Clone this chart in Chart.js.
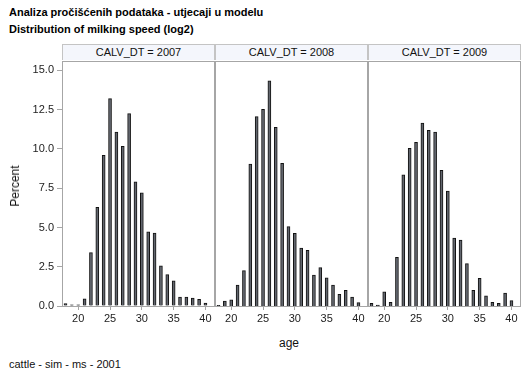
<!DOCTYPE html>
<html lang="hr">
<head>
  <meta charset="UTF-8">
  <title>Distribution of milking speed (log2)</title>
  <script src="https://cdn.jsdelivr.net/npm/chart.js"></script>
  <style>
    body { margin: 0; padding: 0; background: #fff; font-family: Arial, "Liberation Sans", sans-serif; }
    #page { position: relative; width: 529px; height: 378px; overflow: hidden; }
    .title { position: absolute; left: 9px; font-size: 11px; font-weight: bold; color: #000; }
    .strip {
      position: absolute; top: 44px; height: 16px; box-sizing: border-box;
      border: 1px solid #c4c4c4; border-bottom: none; background: #f4f6fc;
      font-size: 11px; color: #111; text-align: center; line-height: 15px;
    }
    .panel { position: absolute; top: 61px; height: 269px; }
    #ylabel { position: absolute; left: 15px; top: 186px; font-size: 12px; color: #111;
      transform: translate(-50%, -50%) rotate(-90deg); white-space: nowrap; }
    #xlabel { position: absolute; left: 289px; top: 343px; font-size: 12px; color: #111;
      transform: translate(-50%, -50%); }
    #foot { position: absolute; left: 9px; top: 358px; font-size: 11px; color: #111; }
  </style>
</head>
<body>
  <div id="page">
    <div class="title" style="top:6px">Analiza pročišćenih podataka - utjecaji u modelu</div>
    <div class="title" style="top:23px">Distribution of milking speed (log2)</div>

    <div class="panel" style="left:0;width:215px"><canvas id="c2007" width="215" height="269"></canvas></div>
    <div class="panel" style="left:215px;width:153px"><canvas id="c2008" width="153" height="269"></canvas></div>
    <div class="panel" style="left:368px;width:153px"><canvas id="c2009" width="153" height="269"></canvas></div>

    <div class="strip" style="left:62px;width:153px">CALV_DT = 2007</div>
    <div class="strip" style="left:215px;width:153px">CALV_DT = 2008</div>
    <div class="strip" style="left:368px;width:153px">CALV_DT = 2009</div>

    <div id="ylabel">Percent</div>
    <div id="xlabel">age</div>
    <div id="foot">cattle - sim - ms - 2001</div>
  </div>

  <script>
    // ages 18..40, percent per age in each calving year
    const ages = [18, 19, 20, 21, 22, 23, 24, 25, 26, 27, 28, 29, 30, 31, 32, 33, 34, 35, 36, 37, 38, 39, 40];
    const pct2007 = [0.15, 0.08, 0.08, 0.45, 3.4, 6.28, 9.6, 13.2, 11.08, 10.17, 12.25, 7.9, 7.2, 4.73, 4.65, 2.55, 2.0, 1.6, 0.57, 0.57, 0.51, 0.42, 0.19];
    const pct2008 = [0.04, 0.32, 0.4, 1.34, 2.25, 9.04, 12.06, 12.53, 14.33, 11.38, 9.09, 5.05, 4.63, 3.69, 3.55, 1.97, 2.44, 1.8, 1.34, 0.74, 1.0, 0.57, 0.21];
    const pct2009 = [0.17, 0.06, 0.91, 0.23, 3.1, 8.36, 10.04, 10.42, 11.65, 11.19, 11.08, 8.64, 7.32, 4.33, 4.2, 2.7, 1.0, 1.76, 0.64, 0.23, 0.17, 0.83, 0.34];
    const xTicks = [20, 25, 30, 35, 40];
    const yTicks = [0, 2.5, 5, 7.5, 10, 12.5, 15];

    const axisColor = '#a6a6a6';
    const tickFont = { family: 'Arial', size: 11 };

    // gray frame around each panel
    const framePlugin = {
      id: 'frame',
      afterDraw(chart) {
        const a = chart.chartArea;
        const ctx = chart.ctx;
        ctx.save();
        ctx.strokeStyle = axisColor;
        ctx.lineWidth = 1;
        ctx.strokeRect(Math.round(a.left) + 0.5, Math.round(a.top) + 0.5,
          Math.round(a.right - a.left) - 1, Math.round(a.bottom - a.top));
        ctx.restore();
      }
    };

    function makePanel(id, values, showY) {
      const points = ages.map((a, i) => ({ x: a, y: values[i] }));
      return new Chart(document.getElementById(id), {
        type: 'bar',
        data: {
          datasets: [{
            data: points,
            backgroundColor: '#62666e',
            borderColor: '#111',
            borderWidth: 1,
            barThickness: 3
          }]
        },
        options: {
          responsive: false,
          animation: false,
          layout: { padding: 0 },
          plugins: { legend: { display: false }, tooltip: { enabled: false } },
          scales: {
            x: {
              type: 'linear',
              offset: false,
              min: 17.45,
              max: 41.5,
              afterBuildTicks: axis => { axis.ticks = xTicks.map(v => ({ value: v })); },
              afterFit: scale => { scale.height = 24; scale.paddingLeft = 0; scale.paddingRight = 0; },
              ticks: { font: tickFont, color: '#222', padding: 2, maxRotation: 0, autoSkip: false },
              grid: { drawOnChartArea: false, tickLength: 4, color: axisColor, offset: false },
              border: { color: axisColor }
            },
            y: {
              display: showY,
              min: 0,
              max: 15.6,
              afterBuildTicks: axis => { axis.ticks = yTicks.map(v => ({ value: v })); },
              afterFit: scale => {
                scale.width = showY ? 62 : 0;
                scale.paddingTop = 0;
                scale.paddingBottom = 0;
              },
              ticks: { font: tickFont, color: '#222', padding: 3, callback: v => v.toFixed(1) },
              grid: { drawOnChartArea: false, tickLength: 5, color: axisColor },
              border: { color: axisColor }
            }
          }
        },
        plugins: [framePlugin]
      });
    }

    makePanel('c2007', pct2007, true);
    makePanel('c2008', pct2008, false);
    makePanel('c2009', pct2009, false);
  </script>
</body>
</html>
